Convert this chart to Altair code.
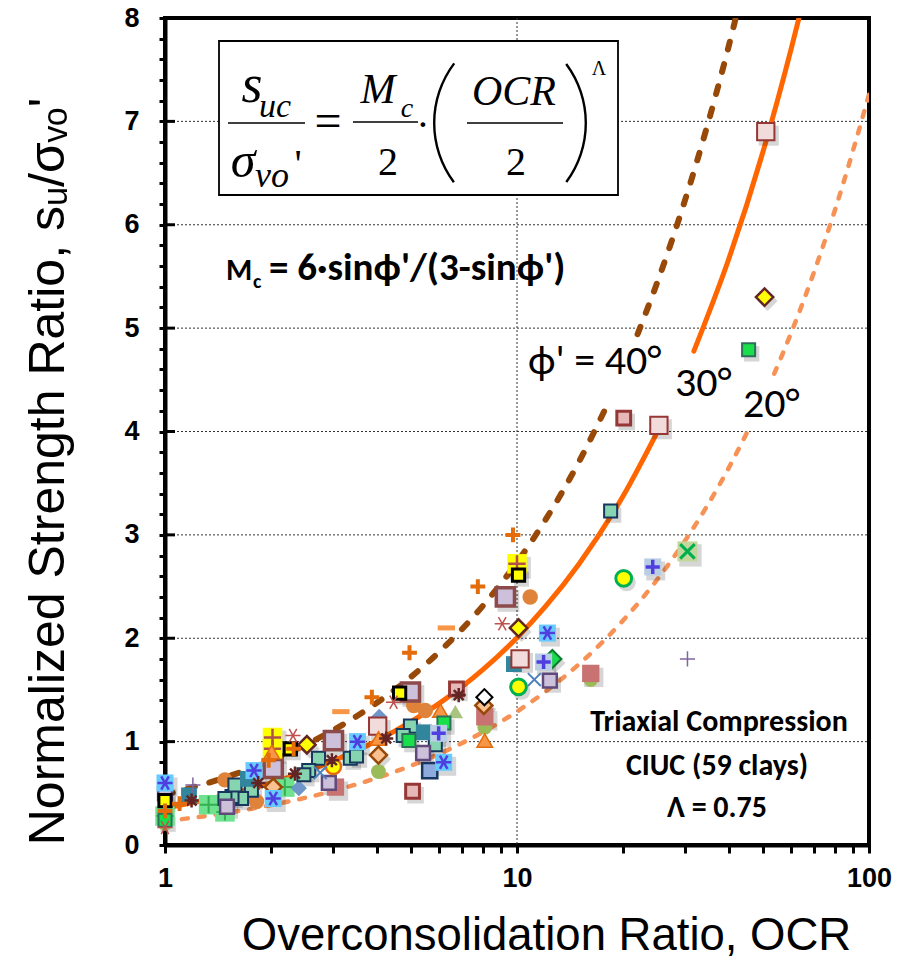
import altair as alt
import pandas as pd

# ---------------- data ----------------
# model curves (OCR, su/sigma'vo); seg splits around the labels
c40_ocr = [1, 1.5, 2, 3, 4, 5, 6, 8, 10, 12, 15, 17.8, 22, 25, 30, 35, 40, 42]
c40_val = [0.486, 0.659, 0.818, 1.109, 1.376, 1.626, 1.865, 2.314, 2.735, 3.136, 3.707, 4.215,
           4.941, 5.438, 6.235, 7.000, 7.736, 8.025]
c40_seg = [1] * 12 + [2] * 6

c30_ocr = [1, 1.5, 2, 3, 4, 5, 6, 8, 10, 12, 15, 20, 25.6, 31.8, 40, 50, 60, 64]
c30_val = [0.357, 0.484, 0.600, 0.813, 1.009, 1.193, 1.368, 1.697, 2.006, 2.300, 2.719, 3.374, 4.06,
           4.778, 5.674, 6.708, 7.691, 8.07]
c30_seg = [1] * 13 + [2] * 5

c20_ocr = [1, 1.5, 2, 3, 4, 5, 6, 8, 10, 12, 15, 20, 25, 30, 40, 45, 53.8, 60, 70, 80, 100]
c20_val = [0.230, 0.311, 0.386, 0.523, 0.649, 0.767, 0.880, 1.092, 1.291, 1.480, 1.749, 2.171, 2.566,
           2.942, 3.651, 3.988, 4.559, 4.948, 5.555, 6.140, 7.258]
c20_seg = [1] * 16 + [2] * 5

# measured points, grouped by symbol
teal_sq_ocr = [18.45, 4.98, 4.75, 5.86, 3.36, 3.50, 2.73, 2.56, 2.48, 1.76, 1.65, 1.55, 1.48, 1.58]
teal_sq_val = [3.23, 1.15, 1.06, 0.97, 0.84, 0.86, 0.84, 0.72, 0.68, 0.53, 0.45, 0.47, 0.45, 0.58]
lav_big_ocr = [9.27, 4.98, 3.01, 2.03]
lav_big_val = [2.40, 1.48, 1.01, 0.74]
lav_sq_ocr = [12.4, 5.41, 2.92, 1.50, 1.0]
lav_sq_val = [1.59, 0.89, 0.60, 0.37, 0.50]
pink_big_ocr = [50.9, 25.3, 10.2, 4.02]
pink_big_val = [6.90, 4.06, 1.80, 1.15]
rose_sq_ocr = [20.1, 6.73, 5.05]
rose_sq_val = [4.13, 1.51, 0.52]
olive_circ_ocr = [16.2, 8.1, 4.04, 1.0]
olive_circ_val = [1.60, 1.14, 0.71, 0.21]
rose_flat_ocr = [16.2, 8.1, 3.05]
rose_flat_val = [1.66, 1.24, 0.56]
yellow_sq_ocr = [10.1, 4.64, 2.27, 1.0]
yellow_sq_val = [2.61, 1.47, 0.93, 0.43]
yellow_plus_ocr = [10.0, 2.02, 2.02]
yellow_plus_val = [2.72, 1.04, 0.93]
yellow_dia_ocr = [50.5, 10.1, 2.53]
yellow_dia_val = [5.30, 2.10, 0.97]
peach_dia_ocr = [8.05, 4.04, 2.03]
peach_dia_val = [1.35, 0.87, 0.56]
orange_circ_ocr = [10.9, 5.09, 5.49, 1.48, 1.82, 1.0]
orange_circ_val = [2.40, 1.35, 1.30, 0.63, 0.42, 0.60]
orange_plus_ocr = [9.74, 7.74, 4.95, 3.87, 2.32, 1.97, 1.10, 1.0]
orange_plus_val = [3.00, 2.50, 1.86, 1.43, 0.93, 0.82, 0.40, 0.33]
red_star_ocr = [9.08, 2.31, 4.46, 1.0]
red_star_val = [2.14, 1.06, 1.38, 0.17]
dark_star_ocr = [6.83, 4.25, 2.98, 1.84, 1.19, 2.34]
dark_star_val = [1.45, 1.03, 0.82, 0.60, 0.43, 0.69]
blue_star_ocr = [12.2, 6.19, 3.52, 1.79, 2.03, 1.0]
blue_star_val = [2.05, 0.80, 1.00, 0.72, 0.45, 0.60]
orange_tri_ocr = [8.1, 6.06, 4.04, 2.01]
orange_tri_val = [1.01, 1.30, 1.03, 0.90]
olive_tri_ocr = [6.68, 1.0]
olive_tri_val = [1.29, 0.28]
steel_dia_ocr = [4.06, 2.40, 1.0]
steel_dia_val = [1.24, 0.55, 0.25]
yg_circ_ocr = [20.1, 10.1]
yg_circ_val = [2.58, 1.53]
yo_circ_ocr = [3.01]
yo_circ_val = [0.76]
green_sq_ocr = [45.5, 6.2, 4.93, 1.0]
green_sq_val = [4.79, 1.18, 1.01, 0.24]
green_dia_ocr = [12.6]
green_dia_val = [1.80]
blue_x_ocr = [11.2, 2.76]
blue_x_val = [1.60, 0.70]
olive_x_ocr = [30.5]
olive_x_val = [2.84]
lb_plus_ocr = [24.3, 11.9, 5.99]
lb_plus_val = [2.69, 1.77, 1.08]
purple_plus_ocr = [30.5, 1.20]
purple_plus_val = [1.80, 0.58]
orange_dash_ocr = [6.3, 3.16]
orange_dash_val = [2.10, 1.29]
steel_sq_ocr = [9.8, 5.44, 1.72, 1.17]
steel_sq_val = [1.75, 1.09, 0.64, 0.48]
hollow_dia_ocr = [8.08]
hollow_dia_val = [1.43]
lg_plus_ocr = [1.33, 1.48, 2.19, 1.0]
lg_plus_val = [0.39, 0.32, 0.56, 0.28]
blue_sq_ocr = [5.65]
blue_sq_val = [0.72]

grid_y = [1, 2, 3, 4, 5, 6, 7]
grid_x = [10]
x_tick_values = [1, 2, 3, 4, 5, 6, 7, 8, 9, 10, 20, 30, 40, 50, 60, 70, 80, 90, 100]
y_tick_values = [round(i * 0.2, 1) for i in range(41)]
y_major = [0, 1, 2, 3, 4, 5, 6, 7, 8]

# ---------------- styling ----------------
W, H = 704, 827
SANS = "Liberation Sans, Arial, sans-serif"
SERIF = "Liberation Serif, Times New Roman, serif"
CAL = "Carlito, Lato, Open Sans, sans-serif"

PLUS = "M-1,0L1,0M0,-1L0,1"
XSHAPE = "M-0.8,-0.8L0.8,0.8M-0.8,0.8L0.8,-0.8"
STAR = "M-1,0L1,0M-0.5,-0.87L0.5,0.87M-0.5,0.87L0.5,-0.87"
STAR8 = "M-1,0L1,0M0,-1L0,1M-0.7,-0.7L0.7,0.7M-0.7,0.7L0.7,-0.7"
DASH = "M-1,0L1,0"

XS = alt.Scale(type="log", domain=[1, 100], nice=False)
YS = alt.Scale(domain=[0, 8], nice=False, zero=False)
XA = alt.Axis(values=x_tick_values,
              labelExpr="(datum.value == 1 || datum.value == 10 || datum.value == 100) ? '' + datum.value : ''",
              title="Overconsolidation Ratio, OCR", tickSize=8, labelPadding=12,
              titleX=381, titleY=104, titleBaseline="alphabetic", titleAnchor="middle",
              titleFontSize=45.5,
              labelFlush=False, labelOverlap=False, grid=False)
YA = alt.Axis(values=y_tick_values,
              labelExpr="datum.value % 1 == 0 ? format(datum.value, 'd') : ''",
              title="Normalized Strength Ratio, s\u1d64/\u03c3\u1d65\u2092'", tickSize=6, labelPadding=20,
              titleX=-102, titleY=453, titleAngle=270, titleBaseline="alphabetic", titleAlign="center",
              titleFontSize=50,
              labelFlush=False, labelOverlap=False, grid=False)

X = alt.X("ocr:Q", scale=XS, axis=XA)
Y = alt.Y("val:Q", scale=YS, axis=YA)


def df(o, v):
    return pd.DataFrame({"ocr": o, "val": v})


def sym(o, v, shape, size, fill=None, stroke=None, sw=0.0):
    kw = dict(shape=shape, size=size, opacity=1, strokeWidth=sw)
    if fill is not None:
        kw.update(filled=True, fill=fill, fillOpacity=1)
    else:
        kw.update(filled=False)
    if stroke is not None:
        kw.update(stroke=stroke, strokeOpacity=1)
    else:
        kw.update(strokeWidth=0)
    return alt.Chart(df(o, v)).mark_point(**kw).encode(x=X, y=Y)


def shadow(o, v, shape, size):
    return alt.Chart(df(o, v)).mark_point(shape=shape, size=size * 1.25, filled=True, fill="#000000",
                                          fillOpacity=0.16, strokeWidth=0, opacity=1,
                                          xOffset=3, yOffset=4).encode(x=X, y=Y)


dummy = pd.DataFrame({"a": [0]})


def txt(s, x, y, size, font=SANS, style="normal", weight="normal", align="left", baseline="alphabetic"):
    return alt.Chart(dummy).mark_text(text=s, font=font, fontSize=size, fontStyle=style,
                                      fontWeight=weight, align=align, baseline=baseline,
                                      color="black").encode(x=alt.value(x), y=alt.value(y))


def hline(x1, x2, y, w=1.6):
    return alt.Chart(dummy).mark_rule(color="black", strokeWidth=w).encode(
        x=alt.value(x1), x2=alt.value(x2), y=alt.value(y))


def paren(cx, cy, t1, t2):
    return alt.Chart(dummy).mark_arc(theta=t1, theta2=t2, radius=100, radius2=97.6, color="black").encode(
        x=alt.value(cx), y=alt.value(cy))


layers = []

# grid
layers.append(alt.Chart(pd.DataFrame({"val": grid_y})).mark_rule(
    color="#333333", strokeWidth=1, strokeDash=[2, 2]).encode(
    y=Y, x=alt.value(0), x2=alt.value(W)))
layers.append(alt.Chart(pd.DataFrame({"ocr": grid_x})).mark_rule(
    color="#333333", strokeWidth=1, strokeDash=[2, 2]).encode(
    x=X, y=alt.value(0), y2=alt.value(H)))
# inward major ticks on the y axis
layers.append(alt.Chart(pd.DataFrame({"val": y_major})).mark_rule(
    color="black", strokeWidth=3).encode(y=Y, x=alt.value(0), x2=alt.value(10)))

# equation box
layers.append(alt.Chart(dummy).mark_rect(fill="white", stroke="black", strokeWidth=1.8).encode(
    x=alt.value(54), x2=alt.value(453), y=alt.value(23), y2=alt.value(177)))
layers += [
    txt("s", 87, 84, 54, SERIF, "italic", align="center"),
    txt("uc", 110, 99, 34, SERIF, "italic", align="center"),
    hline(63, 140, 105),
    txt("\u03c3", 78, 159, 50, SERIF, "italic", align="center"),
    txt("vo", 107, 169, 36, SERIF, "italic", align="center"),
    txt("'", 133, 159, 40, SERIF, align="center"),
    txt("=", 163, 119, 48, SERIF, align="center"),
    txt("M", 213, 85, 42, SERIF, "italic", align="center"),
    txt("c", 242, 99, 28, SERIF, "italic", align="center"),
    hline(188, 253, 104),
    txt("2", 223, 157, 40, SERIF, align="center"),
    txt("\u00b7", 258, 120, 40, SERIF, align="center"),
    paren(368, 105, 4.07, 5.36),
    txt("OCR", 349, 87, 42, SERIF, "italic", align="center"),
    hline(302, 398, 105),
    txt("2", 351, 157, 40, SERIF, align="center"),
    paren(322, 105, 0.93, 2.21),
    txt("\u039b", 434, 57, 20, SERIF, align="center"),
]

# curves
for o, v, s, col, w, dash in [
    (c40_ocr, c40_val, c40_seg, "#984807", 6, [8, 15]),
    (c30_ocr, c30_val, c30_seg, "#FF6600", 5, None),
    (c20_ocr, c20_val, c20_seg, "#F79256", 4.5, [6, 11]),
]:
    kw = dict(color=col, strokeWidth=w, interpolate="monotone", clip=True, strokeCap="round")
    if dash:
        kw["strokeDash"] = dash
    layers.append(alt.Chart(pd.DataFrame({"ocr": o, "val": v, "seg": s})).mark_line(**kw).encode(
        x=X, y=Y, detail="seg:N"))

# soft shadows under the filled markers
for o, v, shp, sz in [
    (teal_sq_ocr, teal_sq_val, "square", 190), (lav_big_ocr, lav_big_val, "square", 380),
    (lav_sq_ocr, lav_sq_val, "square", 210), (pink_big_ocr, pink_big_val, "square", 320),
    (rose_sq_ocr, rose_sq_val, "square", 220), (yellow_sq_ocr, yellow_sq_val, "square", 180),
    (yellow_plus_ocr, yellow_plus_val, "square", 380), (yellow_dia_ocr, yellow_dia_val, "diamond", 320),
    (peach_dia_ocr, peach_dia_val, "diamond", 300), (green_sq_ocr, green_sq_val, "square", 190),
    (green_dia_ocr, green_dia_val, "diamond", 330), (blue_star_ocr, blue_star_val, "square", 290),
    (lb_plus_ocr, lb_plus_val, "square", 290), (olive_x_ocr, olive_x_val, "square", 400),
    (yg_circ_ocr, yg_circ_val, "circle", 260), (rose_flat_ocr, rose_flat_val, "square", 300),
]:
    layers.append(shadow(o, v, shp, sz))

# points
layers += [
    sym(olive_circ_ocr, olive_circ_val, "circle", 220, fill="#9BBB59"),
    sym(rose_flat_ocr, rose_flat_val, "square", 300, fill="#C87372"),
    sym(lg_plus_ocr, lg_plus_val, "square", 380, fill="#6EE28F"),
    sym(lg_plus_ocr, lg_plus_val, PLUS, 300, stroke="#34B053", sw=2),
    sym(orange_circ_ocr, orange_circ_val, "circle", 240, fill="#E0833A"),
    sym(steel_dia_ocr, steel_dia_val, "diamond", 260, fill="#6F96C8"),
    sym(olive_tri_ocr, olive_tri_val, "triangle-up", 240, fill="#A9C47F"),
    sym(teal_sq_ocr, teal_sq_val, "square", 170, fill="#86D4B0", stroke="#17375E", sw=2),
    sym(steel_sq_ocr, steel_sq_val, "square", 250, fill="#31859C"),
    sym(blue_sq_ocr, blue_sq_val, "square", 230, fill="#8EA9DB", stroke="#17375E", sw=2.5),
    sym(lav_big_ocr, lav_big_val, "square", 330, fill="#CCC0DA", stroke="#8C4A4A", sw=3.5),
    sym(lav_sq_ocr, lav_sq_val, "square", 190, fill="#CCC0DA", stroke="#604A7B", sw=2.5),
    sym(pink_big_ocr, pink_big_val, "square", 300, fill="#F2DCDB", stroke="#953735", sw=2),
    sym(rose_sq_ocr, rose_sq_val, "square", 190, fill="#E6B9B8", stroke="#953735", sw=3),
    sym(yellow_plus_ocr, yellow_plus_val, "square", 380, fill="#FFFF00"),
    sym(yellow_plus_ocr, yellow_plus_val, PLUS, 300, stroke="#B0504D", sw=2.5),
    sym(orange_tri_ocr, orange_tri_val, "triangle-up", 240, fill="#F79646", stroke="#E46C0A", sw=1.5),
    sym(yg_circ_ocr, yg_circ_val, "circle", 250, fill="#FFFF00", stroke="#00B050", sw=3),
    sym(yo_circ_ocr, yo_circ_val, "circle", 230, fill="#FFFF00", stroke="#E46C0A", sw=2.5),
    sym(green_sq_ocr, green_sq_val, "square", 170, fill="#19E04A", stroke="#2E6F5A", sw=2),
    sym(green_dia_ocr, green_dia_val, "diamond", 330, fill="#1ED750", stroke="#0B7A30", sw=2),
    sym(peach_dia_ocr, peach_dia_val, "diamond", 290, fill="#FAC090", stroke="#984807", sw=2.5),
    sym(hollow_dia_ocr, hollow_dia_val, "diamond", 260, fill="white", stroke="black", sw=2),
    sym(yellow_dia_ocr, yellow_dia_val, "diamond", 300, fill="#FFFF00", stroke="#632523", sw=2.5),
    sym(yellow_sq_ocr, yellow_sq_val, "square", 150, fill="#FFFF00", stroke="black", sw=3),
    sym(blue_star_ocr, blue_star_val, "square", 290, fill="#66CCFF"),
    sym(blue_star_ocr, blue_star_val, STAR, 230, stroke="#4F3FE0", sw=2.5),
    sym(lb_plus_ocr, lb_plus_val, "square", 290, fill="#B9CDE5"),
    sym(lb_plus_ocr, lb_plus_val, PLUS, 200, stroke="#4F3FE0", sw=3.5),
    sym(olive_x_ocr, olive_x_val, "square", 400, fill="#C3D69B"),
    sym(olive_x_ocr, olive_x_val, XSHAPE, 330, stroke="#00B050", sw=3),
    sym(blue_x_ocr, blue_x_val, XSHAPE, 260, stroke="#4F81BD", sw=2),
    sym(purple_plus_ocr, purple_plus_val, PLUS, 230, stroke="#8064A2", sw=1.5),
    sym(red_star_ocr, red_star_val, STAR, 230, stroke="#C0504D", sw=1.5),
    sym(dark_star_ocr, dark_star_val, STAR8, 200, stroke="#632523", sw=2.5),
    sym(orange_plus_ocr, orange_plus_val, PLUS, 220, stroke="#E46C0A", sw=4),
    sym(orange_dash_ocr, orange_dash_val, DASH, 300, stroke="#F79646", sw=5),
]

# annotations
layers += [
    txt("M", 61, 262, 30, CAL, weight="bold"),
    txt("c", 88, 270, 20, CAL, weight="bold"),
    txt("= 6\u00b7sin\u03d5'/(3-sin\u03d5')", 104, 262, 39, CAL, weight="bold"),
    txt("\u03d5' = 40\u00b0", 363, 343, 42, CAL, baseline="middle"),
    txt("30\u00b0", 510, 365, 42, CAL, baseline="middle"),
    txt("20\u00b0", 578, 386, 42, CAL, baseline="middle"),
    txt("Triaxial Compression", 554, 704, 30, CAL, weight="bold", align="center", baseline="middle"),
    txt("CIUC (59 clays)", 552, 748, 30, CAL, weight="bold", align="center", baseline="middle"),
    txt("\u039b = 0.75", 552, 790, 30, CAL, weight="bold", align="center", baseline="middle"),
]

chart = alt.layer(*layers).properties(
    width=W, height=H,
    autosize=alt.AutoSizeParams(type="none"),
    padding={"left": 165, "top": 18, "right": 33, "bottom": 116},
).configure_view(
    stroke="black", strokeWidth=4
).configure_axis(
    domainColor="black", domainWidth=4, tickColor="black", tickWidth=3,
    labelFont="Liberation Sans Narrow, Liberation Sans, Arial, sans-serif",
    labelFontWeight="bold", labelFontSize=27, labelColor="black",
    titleFont=SANS, titleFontWeight="normal", titleColor="black",
)

chart.save("out.html", embed_options={"renderer": "svg", "actions": False})
